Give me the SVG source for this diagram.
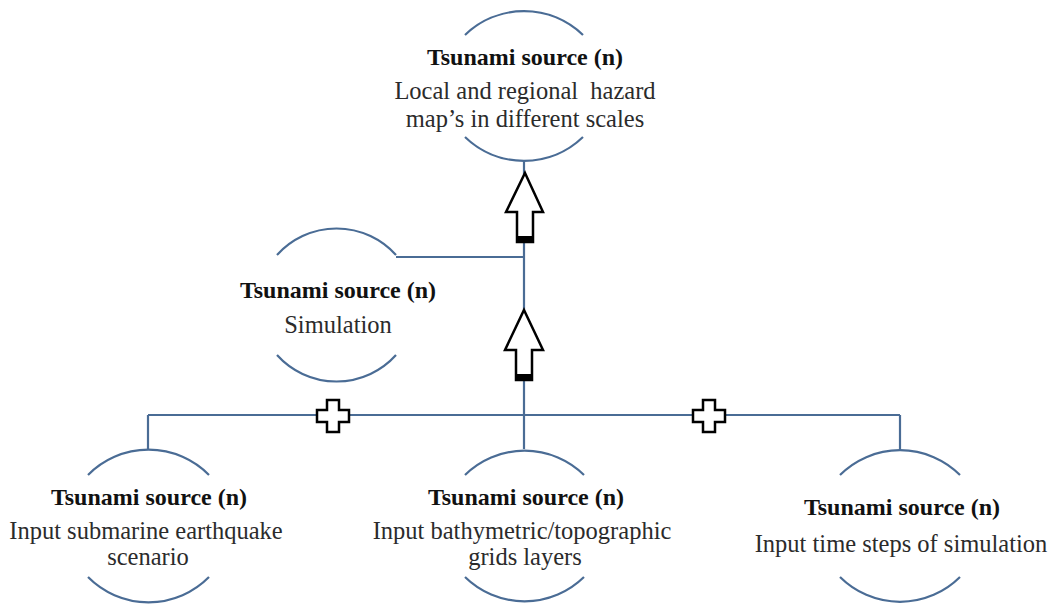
<svg xmlns="http://www.w3.org/2000/svg" width="1050" height="606" viewBox="0 0 1050 606">
<style>
.arc{fill:none;stroke:#4a6c95;stroke-width:2.2}
.ln{fill:none;stroke:#4a6c95;stroke-width:2.2}
.t{font-family:"Liberation Serif","Times New Roman",serif;text-anchor:middle}
.b{font-weight:bold;fill:#111;font-size:24px}
.r{fill:#2b2b2b;font-size:24.5px}
.arr{fill:#fff;stroke:#000;stroke-width:2.5;stroke-linejoin:miter}
.bar{fill:#000}
</style>
<rect width="1050" height="606" fill="#fff"/>
<g id="connectors">
<line class="ln" x1="524" y1="161" x2="524" y2="449"/>
<polyline class="ln" points="396,257 524,257"/>
<line class="ln" x1="148" y1="415" x2="900" y2="415"/>
<line class="ln" x1="148" y1="415" x2="148" y2="450"/>
<line class="ln" x1="900" y1="415" x2="900" y2="450"/>
<g id="arrow1">
<path class="arr" d="M525,173 L543,212 L533,212 L533,242 L517,242 L517,212 L506,212 Z"/>
<rect class="bar" x="516" y="236" width="18" height="7"/>
</g>
<g id="arrow2">
<path class="arr" d="M524,310 L543,350 L532,350 L532,380 L516,380 L516,350 L505,350 Z"/>
<rect class="bar" x="515" y="374" width="18" height="7"/>
</g>
<path id="plus1" class="arr" d="M327,400 h12 v10 h10 v12 h-10 v10 h-12 v-10 h-10 v-12 h10 z"/>
<path id="plus2" class="arr" d="M703,400 h12 v10 h10 v12 h-10 v10 h-12 v-10 h-10 v-12 h10 z"/>
</g>
<g id="node-top">
<path class="arc" d="M465,35 A85,85 0 0 1 583,35"/>
<path class="arc" d="M465,137 A85,85 0 0 0 583,137"/>
<text class="t b" x="525" y="65">Tsunami source (n)</text>
<text class="t r" x="525" y="99" xml:space="preserve">Local and regional  hazard</text>
<text class="t r" x="525" y="127">map’s in different scales</text>
</g>
<g id="node-sim">
<path class="arc" d="M277,255 A80,80 0 0 1 396,255"/>
<path class="arc" d="M277,355 A80,80 0 0 0 396,355"/>
<text class="t b" x="338" y="298">Tsunami source (n)</text>
<text class="t r" x="338" y="333">Simulation</text>
</g>
<g id="node-left">
<path class="arc" d="M88,475 A85,85 0 0 1 209,475"/>
<path class="arc" d="M88,577 A85,85 0 0 0 209,577"/>
<text class="t b" x="149" y="505">Tsunami source (n)</text>
<text class="t r" x="146" y="539">Input submarine earthquake</text>
<text class="t r" x="148" y="565">scenario</text>
</g>
<g id="node-mid">
<path class="arc" d="M465,475 A85,85 0 0 1 584,475"/>
<path class="arc" d="M465,577 A85,85 0 0 0 584,577"/>
<text class="t b" x="526" y="505">Tsunami source (n)</text>
<text class="t r" x="522" y="539">Input bathymetric/topographic</text>
<text class="t r" x="525" y="565">grids layers</text>
</g>
<g id="node-right">
<path class="arc" d="M840,475 A85,85 0 0 1 960,475"/>
<path class="arc" d="M840,577 A85,85 0 0 0 960,577"/>
<text class="t b" x="902" y="515">Tsunami source (n)</text>
<text class="t r" x="901" y="552">Input time steps of simulation</text>
</g>
</svg>
